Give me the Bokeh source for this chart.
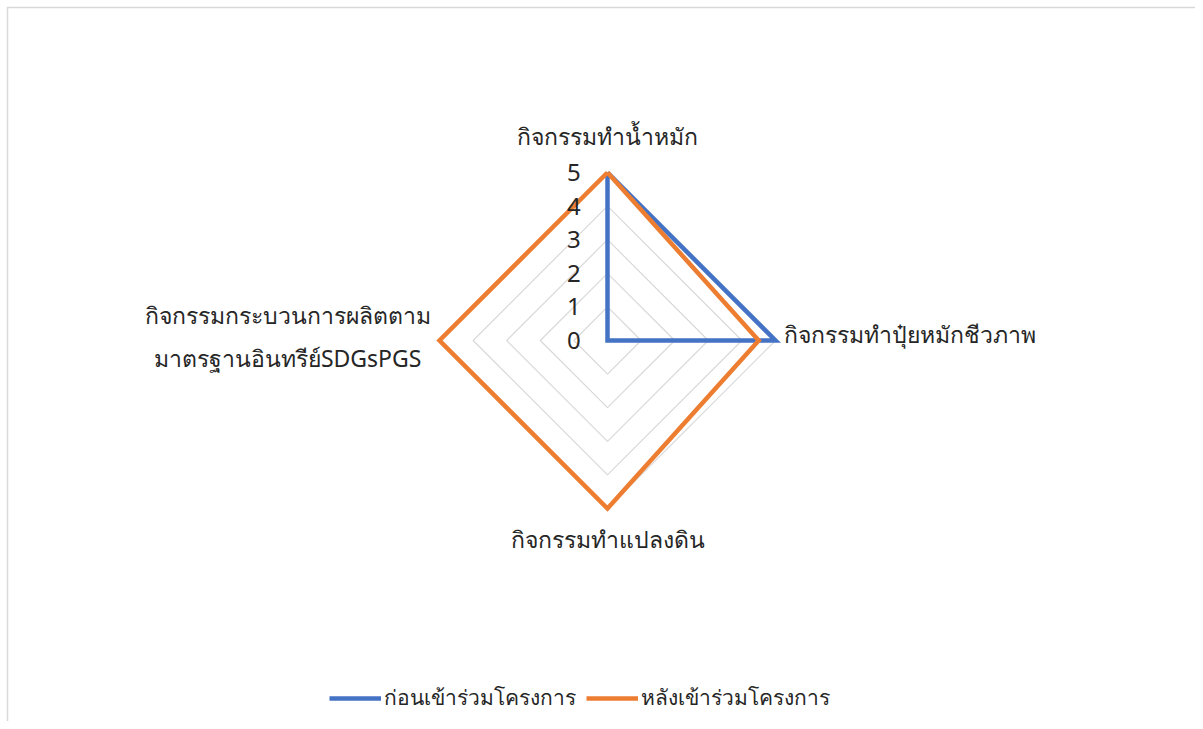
import math
from bokeh.plotting import figure
from bokeh.models import Range1d, ColumnDataSource, Legend, LegendItem
from bokeh.core.properties import value
from bokeh.embed import file_html
from bokeh.resources import INLINE

categories = ["กิจกรรมทำน้ำหมัก", "กิจกรรมทำปุ๋ยหมักชีวภาพ", "กิจกรรมทำแปลงดิน",
              "กิจกรรมกระบวนการผลิตตาม\nมาตรฐานอินทรีย์SDGsPGS"]
series_names = ["ก่อนเข้าร่วมโครงการ", "หลังเข้าร่วมโครงการ"]
before = [5, 5, 0, 0]
after = [5, 4.5, 5, 5]
tick_values = [0, 1, 2, 3, 4, 5]
tick_labels = ["0", "1", "2", "3", "4", "5"]

FONT = "Noto Sans"
W, H = 1195, 721
SCALE = 33.6          # px per unit
CX, CY = 607, 340     # centre in px from figure's top-left

x0, x1 = -CX / SCALE, (W - CX) / SCALE
y0, y1 = -(H - CY) / SCALE, CY / SCALE
p = figure(width=W, height=H, output_backend="svg", toolbar_location=None,
           min_border=0, x_range=Range1d(x0, x1), y_range=Range1d(y0, y1))
p.axis.visible = False
p.grid.visible = False
p.outline_line_color = None
p.background_fill_color = "white"
p.border_fill_color = "white"

# chart-area border (left and top edges, as in the reference)
bx = x0 + 7 / SCALE
by = y1 - 7 / SCALE
p.line([bx, bx, x1 + 1], [y0 - 1, by, by], line_color="#d9d9d9", line_width=1.5)

n = len(categories)
angles = [math.pi / 2 - k * 2 * math.pi / n for k in range(n)]

# grid diamonds
for t in tick_values[1:]:
    xs = [t * math.cos(a) for a in angles] + [t * math.cos(angles[0])]
    ys = [t * math.sin(a) for a in angles] + [t * math.sin(angles[0])]
    p.line(xs, ys, line_color="#d9d9d9", line_width=1.2)

# series
colors = ["#4472c4", "#ed7d31"]
renderers = []
for vals, col in zip([before, after], colors):
    xs = [v * math.cos(a) for v, a in zip(vals, angles)]
    ys = [v * math.sin(a) for v, a in zip(vals, angles)]
    xs.append(xs[0]); ys.append(ys[0])
    r = p.line(xs, ys, line_color=col, line_width=4.5, line_join="miter")
    renderers.append(r)

# tick labels
p.text(x=[-1.0] * len(tick_values), y=tick_values, text=tick_labels,
       text_align="center", text_baseline="middle", text_font=value(FONT),
       text_font_size="24px", text_color="#262626")

# category labels
label_r = [6.1, 5.24, 5.9, 9.52]
label_dy = [0, 0.2, 0, 0.13]
aligns = ["center", "left", "center", "center"]
lx = [r * math.cos(a) for r, a in zip(label_r, angles)]
ly = [r * math.sin(a) + d for r, a, d in zip(label_r, angles, label_dy)]
src = ColumnDataSource(dict(x=lx, y=ly, t=categories, al=aligns))
p.text(x="x", y="y", text="t", text_align="al", text_baseline="middle",
       source=src, text_font=value(FONT), text_font_size="23px",
       text_color="#262626", text_line_height=1.35)

legend = Legend(items=[LegendItem(label=series_names[i], renderers=[renderers[i]])
                       for i in range(2)],
                orientation="horizontal", location=(329, 7),
                label_text_font=FONT, label_text_font_size="21px",
                label_text_color="#262626", glyph_width=52, glyph_height=20,
                border_line_color=None, background_fill_alpha=0,
                spacing=10, label_standoff=3, padding=4)
p.add_layout(legend)

open("out.html", "w").write(file_html(p, INLINE))
